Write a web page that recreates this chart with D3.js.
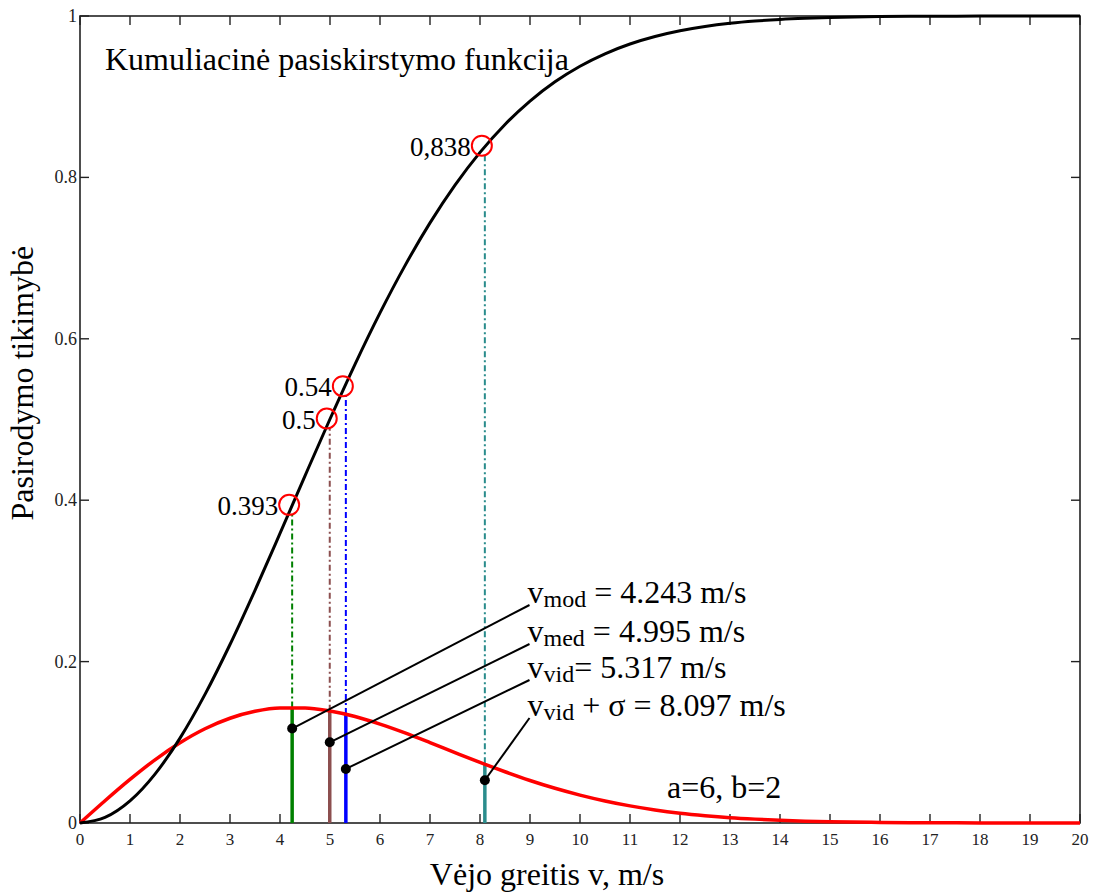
<!DOCTYPE html>
<html>
<head>
<meta charset="utf-8">
<script src="https://d3js.org/d3.v7.min.js"></script>
<style>
  body { margin: 0; background: #fff; }
</style>
</head>
<body>
<svg id="chart" width="1096" height="892" font-family="'Liberation Serif', 'DejaVu Serif', serif"></svg>
<script>

// wind speed grid (m/s) and the two curves
var speeds = [0, 0.5, 1, 1.5, 2, 2.5, 3, 3.5, 4, 4.5, 5, 5.5, 6, 6.5, 7, 7.5, 8, 8.5, 9, 9.5,
              10, 10.5, 11, 11.5, 12, 12.5, 13, 13.5, 14, 14.5, 15, 16, 17, 18, 19, 20];
var cdf = [0, 0.0069, 0.0274, 0.0606, 0.1052, 0.1594, 0.2212, 0.2884, 0.3588, 0.4302,
           0.5006, 0.5684, 0.6321, 0.6907, 0.7436, 0.7904, 0.8310, 0.8656, 0.8946, 0.9185,
           0.9378, 0.9532, 0.9653, 0.9746, 0.9817, 0.9870, 0.9909, 0.9937, 0.9957, 0.9971,
           0.9981, 0.9993, 0.9997, 0.9999, 1.0, 1.0];
var pdf = [0, 0.0276, 0.0540, 0.0783, 0.0994, 0.1168, 0.1298, 0.1384, 0.1425, 0.1425,
           0.1387, 0.1319, 0.1226, 0.1117, 0.0997, 0.0873, 0.0751, 0.0635, 0.0527, 0.0430,
           0.0346, 0.0273, 0.0212, 0.0162, 0.0122, 0.0091, 0.0066, 0.0048, 0.0034, 0.0023,
           0.0016, 0.0007, 0.0003, 0.0001, 0.0000, 0.0000];

// characteristic speeds
var markerSpeed = [4.243, 4.995, 5.317, 8.097];
var markerCdf = [0.393, 0.5, 0.54, 0.838];
var markerCdfLabel = ["0.393", "0.5", "0.54", "0,838"];
var markerPdf = [0.143, 0.139, 0.135, 0.074];
var markerDot = [0.117, 0.100, 0.067, 0.053];
var markerSub = ["mod", "med", "vid", "vid"];
var markerText = [" = 4.243 m/s", " = 4.995 m/s", "= 5.317 m/s", " + \u03c3 = 8.097 m/s"];
var markerColor = ["#008000", "#8c4f4f", "#0000ff", "#2a8c8c"];
// where the annotation text sits (data units)
var noteX = 8.95;
var noteY = [0.2726, 0.2243, 0.1797, 0.1326];

var xTicks = d3.range(0, 21);
var yTicks = [0, 0.2, 0.4, 0.6, 0.8, 1];

//-------------------------------------------------------------------------------
var svg = d3.select("#chart");
var margin = {top: 16, left: 80, bottom: 69, right: 16};
var width = 1096, height = 892;

var x = d3.scaleLinear().domain([0, 20]).range([margin.left, width - margin.right]);
var y = d3.scaleLinear().domain([0, 1]).range([height - margin.bottom, margin.top]);

// frame + inward ticks on all sides
svg.append("rect")
    .attr("x", x(0)).attr("y", y(1))
    .attr("width", x(20) - x(0)).attr("height", y(0) - y(1))
    .attr("fill", "none").attr("stroke", "#222").attr("stroke-width", 1.6);

var tickLen = 9;
svg.append("g").selectAll("line").data(xTicks).enter().append("line")
    .attr("x1", d => x(d)).attr("x2", d => x(d))
    .attr("y1", y(0)).attr("y2", y(0) - tickLen)
    .attr("stroke", "#222").attr("stroke-width", 1.4);
svg.append("g").selectAll("line").data(xTicks).enter().append("line")
    .attr("x1", d => x(d)).attr("x2", d => x(d))
    .attr("y1", y(1)).attr("y2", y(1) + tickLen)
    .attr("stroke", "#222").attr("stroke-width", 1.4);
svg.append("g").selectAll("line").data(yTicks).enter().append("line")
    .attr("x1", x(0)).attr("x2", x(0) + tickLen)
    .attr("y1", d => y(d)).attr("y2", d => y(d))
    .attr("stroke", "#222").attr("stroke-width", 1.4);
svg.append("g").selectAll("line").data(yTicks).enter().append("line")
    .attr("x1", x(20)).attr("x2", x(20) - tickLen)
    .attr("y1", d => y(d)).attr("y2", d => y(d))
    .attr("stroke", "#222").attr("stroke-width", 1.4);

svg.append("g").selectAll("text").data(xTicks).enter().append("text")
    .attr("x", d => x(d)).attr("y", y(0) + 22)
    .attr("text-anchor", "middle")
    .attr("font-size", "17px").attr("fill", "#222")
    .text(d => d);

svg.append("g").selectAll("text").data(yTicks).enter().append("text")
    .attr("x", x(0) - 3).attr("y", d => y(d) + 6)
    .attr("text-anchor", "end")
    .attr("font-size", "18px").attr("fill", "#222")
    .text(d => d);

// axis titles
svg.append("text")
    .attr("x", 547).attr("y", 885)
    .attr("text-anchor", "middle").attr("font-size", "32px")
    .text("Vėjo greitis v, m/s");

svg.append("text")
    .attr("transform", "translate(33," + y(0.545) + ") rotate(-90)")
    .attr("text-anchor", "middle").attr("font-size", "32px")
    .text("Pasirodymo tikimybė");

//-------------------------------------------------------------------------------
var points = speeds.map(function(s, i) { return {v: s, F: cdf[i], f: pdf[i]}; });

// dash-dot guides from density up to cumulative value
svg.append("g").selectAll("line").data(markerSpeed).enter().append("line")
    .attr("x1", d => x(d)).attr("x2", d => x(d))
    .attr("y1", (d, i) => y(markerPdf[i])).attr("y2", (d, i) => y(markerCdf[i]) + 8)
    .attr("stroke", (d, i) => markerColor[i]).attr("stroke-width", 2)
    .attr("stroke-dasharray", "6,3,2,3");

// solid bars under the density
svg.append("g").selectAll("line").data(markerSpeed).enter().append("line")
    .attr("x1", d => x(d)).attr("x2", d => x(d))
    .attr("y1", y(0)).attr("y2", (d, i) => y(markerPdf[i]))
    .attr("stroke", (d, i) => markerColor[i]).attr("stroke-width", 3.5);

svg.append("path")
    .datum(points)
    .attr("fill", "none").attr("stroke", "#ff0000").attr("stroke-width", 3.5)
    .attr("d", d3.line().x(d => x(d.v)).y(d => y(d.f)).curve(d3.curveMonotoneX));

svg.append("path")
    .datum(points)
    .attr("fill", "none").attr("stroke", "#000").attr("stroke-width", 3)
    .attr("d", d3.line().x(d => x(d.v)).y(d => y(d.F)).curve(d3.curveMonotoneX));

// red circles + values
svg.append("g").selectAll("circle").data(markerSpeed).enter().append("circle")
    .attr("cx", d => x(d) - 3).attr("cy", (d, i) => y(markerCdf[i]) - 1)
    .attr("r", 10)
    .attr("fill", "none").attr("stroke", "#ff0000").attr("stroke-width", 2);

svg.append("g").selectAll("text").data(markerSpeed).enter().append("text")
    .attr("x", d => x(d) - 14).attr("y", (d, i) => y(markerCdf[i]) + 9)
    .attr("text-anchor", "end").attr("font-size", "27px")
    .text((d, i) => markerCdfLabel[i]);

// leader lines, dots and notes
svg.append("g").selectAll("line").data(markerSpeed).enter().append("line")
    .attr("x1", d => x(d)).attr("y1", (d, i) => y(markerDot[i]))
    .attr("x2", x(noteX) + 2).attr("y2", (d, i) => y(noteY[i]) + 2)
    .attr("stroke", "#000").attr("stroke-width", 2);

svg.append("g").selectAll("circle").data(markerSpeed).enter().append("circle")
    .attr("cx", d => x(d)).attr("cy", (d, i) => y(markerDot[i]))
    .attr("r", 5).attr("fill", "#000");

var notes = svg.append("g").selectAll("text").data(markerSpeed).enter().append("text")
    .attr("x", x(noteX)).attr("y", (d, i) => y(noteY[i]))
    .attr("font-size", "32px");
notes.append("tspan").text("v");
notes.append("tspan").attr("font-size", "24px").attr("dy", 4).text((d, i) => markerSub[i]);
notes.append("tspan").attr("dy", -4).text((d, i) => markerText[i]);

// titles inside plot
svg.append("text")
    .attr("x", 105).attr("y", 70)
    .attr("font-size", "32px")
    .text("Kumuliacinė pasiskirstymo funkcija");

svg.append("text")
    .attr("x", 667).attr("y", 798)
    .attr("font-size", "32px")
    .text("a=6, b=2");

</script>
</body>
</html>
